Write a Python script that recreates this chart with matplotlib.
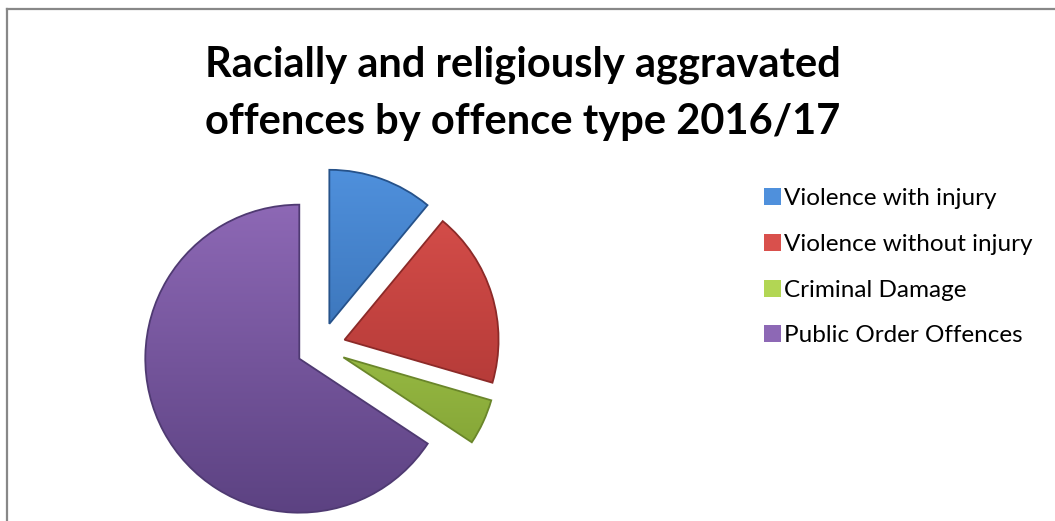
import numpy as np
import matplotlib
matplotlib.use("Agg")
import matplotlib.pyplot as plt
from matplotlib.colors import to_rgb
from matplotlib.lines import Line2D
from matplotlib.patches import Wedge

# Racially / religiously aggravated offences 2016/17, share by offence type (%)
categories = ["Violence with injury", "Violence without injury",
              "Criminal Damage", "Public Order Offences"]
shares = [11.0, 18.5, 4.8, 65.7]

# light (top) and dark (bottom) shade for each slice
tops = ["#4f90dc", "#d9504c", "#b2d654", "#8d68b5"]
bottoms = ["#2c5f9e", "#a3302e", "#7a9a30", "#5c4282"]
edges = ["#26528a", "#8c2a28", "#6a862a", "#4f3a72"]

W, H = 1055, 521
fig = plt.figure(figsize=(W / 100, H / 100), dpi=100)
ax = fig.add_axes([0, 0, 1, 1])

radius = 154
cx, cy = 321, H - 347

# explode is an absolute offset in data units here
wedges, _ = ax.pie(shares, colors=bottoms, startangle=90, counterclock=False,
                   explode=[0.16 * radius] * len(shares), radius=radius,
                   center=(cx, cy), wedgeprops=dict(linewidth=0))

ax.set_xlim(0, W)
ax.set_ylim(0, H)
ax.set_aspect("equal")
ax.axis("off")

# vertical gradient on every slice, clipped to the wedge shape
n = 256
t = np.linspace(0, 1, n)[:, None, None]
for w, top, bot, ec in zip(wedges, tops, bottoms, edges):
    x0, y0 = w.center
    r = w.r
    c_top = np.array(to_rgb(top))
    c_bot = np.array(to_rgb(bot))
    grad = c_bot * (1 - t) + c_top * t
    grad = np.repeat(grad, 4, axis=1)
    img = ax.imshow(grad, origin="lower", extent=[x0 - r, x0 + r, y0 - r, y0 + r],
                    interpolation="bilinear", zorder=w.get_zorder() + 0.1, aspect="auto")
    img.set_clip_path(w)
    # outline above the gradient
    ax.add_patch(Wedge((x0, y0), r, w.theta1, w.theta2, fill=False,
                       edgecolor=ec, linewidth=1.3, zorder=w.get_zorder() + 0.2))

ax.set_xlim(0, W)
ax.set_ylim(0, H)

# frame lines
ax.add_line(Line2D([7, 7], [0, H - 9], color="#888888", linewidth=1.6))
ax.add_line(Line2D([7, W], [H - 9, H - 9], color="#888888", linewidth=1.6))

fig.text(523 / W, 1 - 46 / H,
         "Racially and religiously aggravated\noffences by offence type 2016/17",
         ha="center", va="top", fontsize=30, fontweight="bold",
         family="Lato", linespacing=1.6)

leg = ax.legend(wedges, categories, loc="upper left",
                bbox_to_anchor=(764 / W, 1 - 188 / H), bbox_transform=fig.transFigure,
                frameon=False, prop=dict(family="Lato", size=17.5),
                handlelength=0.7, handleheight=0.7, handletextpad=0.12,
                labelspacing=1.02, borderpad=0, borderaxespad=0)
for h, top, ec in zip(leg.legend_handles, tops, edges):
    h.set_facecolor(top)
    h.set_edgecolor(ec)

fig.savefig("out.png", dpi=100, facecolor="white")
